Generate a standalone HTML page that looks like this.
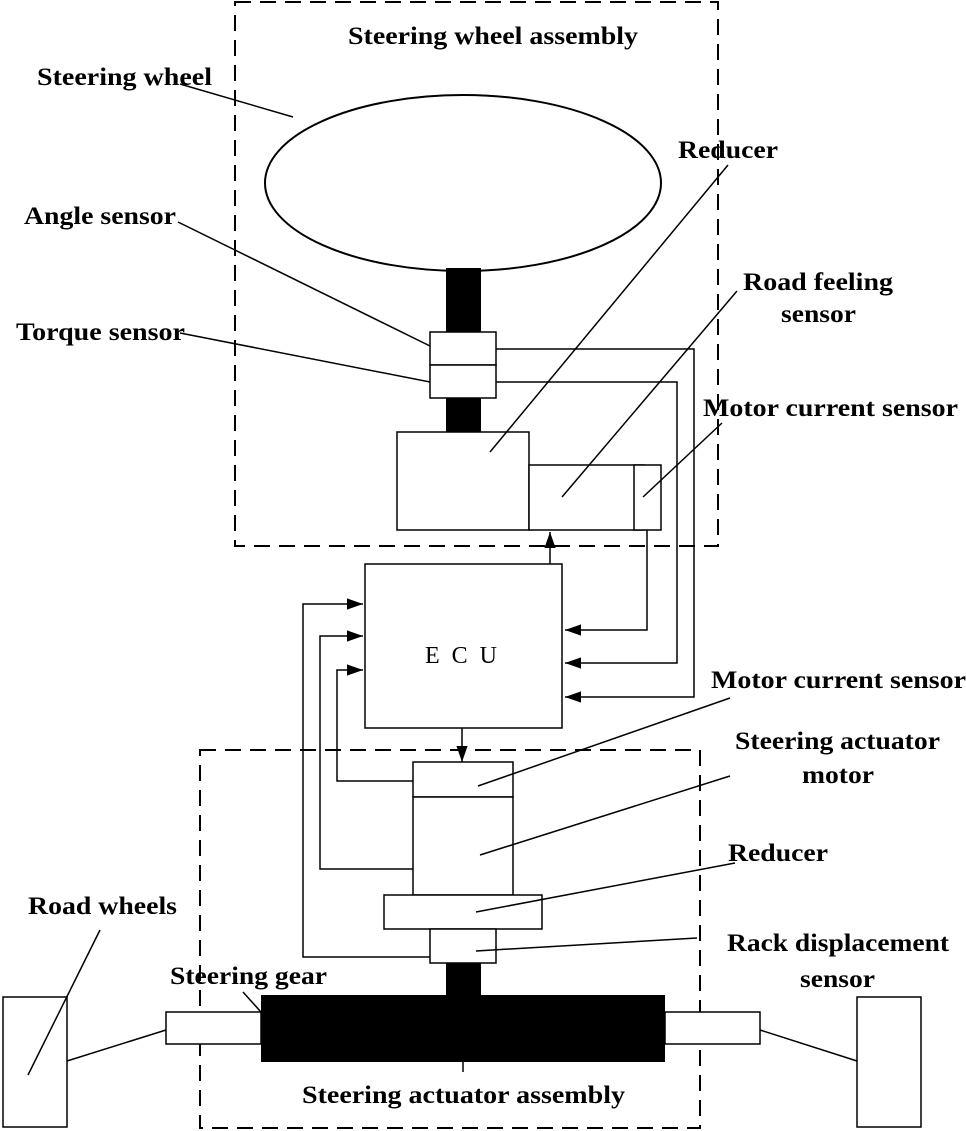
<!DOCTYPE html>
<html><head><style>body{margin:0;background:#fff}svg{display:block}text{font-family:"Liberation Serif",serif;font-weight:bold;font-size:25px;fill:#000}</style></head>
<body>
<svg width="966" height="1131" viewBox="0 0 966 1131" xmlns="http://www.w3.org/2000/svg">
<defs><marker id="b" viewBox="0 0 10 10" refX="10" refY="5" markerWidth="16" markerHeight="16" markerUnits="userSpaceOnUse" orient="auto"><path d="M0,1.5L10,5L0,8.5z" fill="#000"/></marker></defs>
<g fill="none" stroke="#000" stroke-width="2">
<rect x="235" y="2" width="483" height="544" stroke-dasharray="16,9"/>
<rect x="200" y="750" width="500" height="378" stroke-dasharray="16,9"/>
<ellipse cx="463" cy="183" rx="198" ry="88"/>
</g>
<rect x="446" y="268" width="35" height="64" fill="#000"/>
<rect x="446" y="398" width="35" height="34" fill="#000"/>
<g fill="#fff" stroke="#000" stroke-width="1.5">
<rect x="430" y="332" width="66" height="33"/><rect x="430" y="365" width="66" height="33"/>
<rect x="397" y="432" width="132" height="98"/><rect x="529" y="465" width="115" height="65"/><rect x="634" y="465" width="27" height="65"/>
<rect x="365" y="564" width="197" height="164"/>
<rect x="413" y="762" width="100" height="35"/><rect x="413" y="797" width="100" height="98"/>
<rect x="384" y="895" width="158" height="34"/><rect x="430" y="929" width="66" height="34"/>
<rect x="166" y="1012" width="95" height="32"/><rect x="665" y="1012" width="95" height="32"/>
<rect x="3" y="997" width="64" height="130"/><rect x="857" y="997" width="64" height="130"/>
</g>
<rect x="446" y="963" width="35" height="33" fill="#000"/>
<rect x="261" y="995" width="404" height="67" fill="#000"/>
<g fill="none" stroke="#000" stroke-width="1.5">
<polyline points="496,349 694,349 694,697 565,697" marker-end="url(#b)"/>
<polyline points="496,382 677,382 677,663 565,663" marker-end="url(#b)"/>
<polyline points="647,530 647,630 565,630" marker-end="url(#b)"/>
<line x1="550" y1="564" x2="550" y2="532" marker-end="url(#b)"/>
<line x1="462" y1="728" x2="462" y2="762" marker-end="url(#b)"/>
<polyline points="413,781 337,781 337,670 363,670" marker-end="url(#b)"/>
<polyline points="413,869 320,869 320,636 363,636" marker-end="url(#b)"/>
<polyline points="430,957 303,957 303,604 363,604" marker-end="url(#b)"/>
<line x1="166" y1="1030" x2="67" y2="1061"/><line x1="760" y1="1030" x2="857" y2="1061"/>
<line x1="463" y1="1062" x2="463" y2="1072"/>
<line x1="180" y1="84" x2="293" y2="117"/>
<line x1="178" y1="222" x2="430" y2="346"/>
<line x1="180" y1="333" x2="430" y2="382"/>
<line x1="728" y1="165" x2="490" y2="452"/>
<line x1="737" y1="291" x2="562" y2="497"/>
<line x1="722" y1="423" x2="643" y2="497"/>
<line x1="730" y1="698" x2="478" y2="786"/>
<line x1="730" y1="776" x2="480" y2="855"/>
<line x1="735" y1="863" x2="476" y2="912"/>
<line x1="697" y1="938" x2="476" y2="951"/>
<line x1="100" y1="930" x2="28" y2="1075"/>
<line x1="243" y1="992" x2="261" y2="1012"/>
</g>
<text x="348" y="44" textLength="290" lengthAdjust="spacingAndGlyphs">Steering wheel assembly</text>
<text x="37" y="85" textLength="175" lengthAdjust="spacingAndGlyphs">Steering wheel</text>
<text x="678" y="158" textLength="100" lengthAdjust="spacingAndGlyphs">Reducer</text>
<text x="24" y="224" textLength="152" lengthAdjust="spacingAndGlyphs">Angle sensor</text>
<text x="743" y="290" textLength="150" lengthAdjust="spacingAndGlyphs">Road feeling</text>
<text x="781" y="322" textLength="75" lengthAdjust="spacingAndGlyphs">sensor</text>
<text x="16" y="340" textLength="169" lengthAdjust="spacingAndGlyphs">Torque sensor</text>
<text x="703" y="416" textLength="255" lengthAdjust="spacingAndGlyphs">Motor current sensor</text>
<text x="425" y="663" textLength="72" lengthAdjust="spacing" style="font-weight:normal;font-size:24px">ECU</text>
<text x="711" y="688" textLength="255" lengthAdjust="spacingAndGlyphs">Motor current sensor</text>
<text x="735" y="749" textLength="205" lengthAdjust="spacingAndGlyphs">Steering actuator</text>
<text x="802" y="783" textLength="72" lengthAdjust="spacingAndGlyphs">motor</text>
<text x="728" y="861" textLength="100" lengthAdjust="spacingAndGlyphs">Reducer</text>
<text x="28" y="914" textLength="149" lengthAdjust="spacingAndGlyphs">Road wheels</text>
<text x="727" y="951" textLength="222" lengthAdjust="spacingAndGlyphs">Rack displacement</text>
<text x="800" y="987" textLength="75" lengthAdjust="spacingAndGlyphs">sensor</text>
<text x="170" y="984" textLength="157" lengthAdjust="spacingAndGlyphs">Steering gear</text>
<text x="302" y="1103" textLength="323" lengthAdjust="spacingAndGlyphs">Steering actuator assembly</text>
</svg>
</body></html>
